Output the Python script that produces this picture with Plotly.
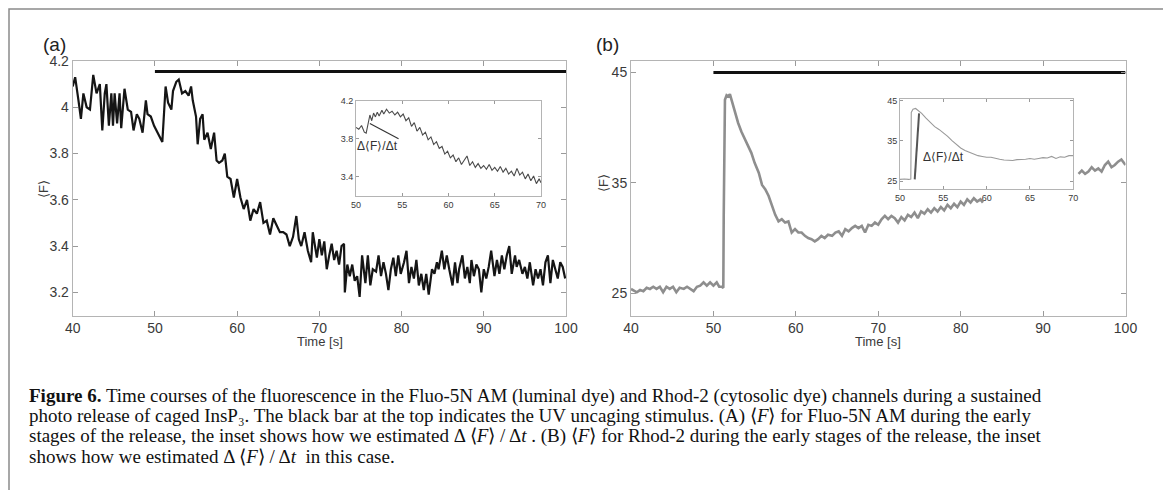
import plotly.graph_objects as go

# ---------------- data ----------------
a_t = [40.0,40.3,40.7,41.0,41.3,41.7,42.1,42.5,42.9,43.3,43.6,43.9,44.1,44.4,44.7,44.9,45.1,45.4,45.7,45.9,
       46.3,46.7,47.1,47.4,47.8,48.1,48.5,48.9,49.1,49.5,49.9,50.3,50.9,51.3,51.6,52.0,52.2,52.6,52.9,53.3,
       53.7,54.1,54.4,54.6,55.0,55.2,55.5,55.8,56.0,56.4,56.8,57.2,57.5,57.8,58.2,58.5,58.8,59.2,59.6,60.0,
       60.4,60.8,61.2,61.6,62.0,62.4,62.8,63.2,63.6,64.0,64.4,64.8,65.2,65.6,66.0,66.4,66.8,67.2,67.5,67.8,
       68.2,68.6,69.0,69.2,69.7,70.0,70.3,70.6,70.9,71.2,71.5,71.8,72.1,72.4,72.7,73.0,73.1,73.4,73.7,74.0,
       74.3,74.6,74.9,75.2,75.6,75.9,76.2,76.5,76.9,77.2,77.5,77.8,78.1,78.4,78.7,79.0,79.3,79.6,79.9,80.3,
       80.6,80.9,81.2,81.5,81.8,82.1,82.4,82.7,83.0,83.3,83.7,84.0,84.3,84.5,84.9,85.2,85.5,85.8,86.2,86.5,
       86.8,87.0,87.4,87.7,88.0,88.3,88.5,88.8,89.1,89.4,89.7,90.0,90.3,90.6,90.9,91.3,91.6,91.9,92.2,92.5,
       92.8,93.1,93.4,93.8,94.0,94.3,94.7,95.0,95.3,95.6,96.0,96.3,96.6,96.9,97.2,97.5,97.8,98.1,98.4,98.7,
       99.0,99.3,99.6,99.9]
a_v = [4.09,4.13,4.03,3.95,4.06,4.00,3.99,4.14,4.06,4.10,3.90,4.06,4.10,3.92,4.06,3.92,4.06,3.93,4.06,3.91,
       4.08,3.99,3.98,3.90,3.97,3.95,3.89,4.03,3.97,3.96,3.92,3.89,3.85,4.09,4.02,3.99,4.07,4.11,4.12,4.06,
       4.07,4.05,4.09,4.03,3.96,3.84,3.95,3.97,3.86,3.89,3.82,3.89,3.77,3.76,3.77,3.80,3.70,3.69,3.61,3.69,
       3.61,3.56,3.60,3.51,3.56,3.54,3.59,3.50,3.51,3.45,3.52,3.49,3.46,3.46,3.45,3.40,3.44,3.53,3.43,3.40,
       3.46,3.38,3.33,3.46,3.35,3.43,3.36,3.42,3.30,3.36,3.41,3.34,3.38,3.32,3.40,3.41,3.20,3.32,3.27,3.32,
       3.25,3.27,3.18,3.36,3.24,3.36,3.23,3.30,3.29,3.36,3.27,3.33,3.28,3.21,3.30,3.35,3.27,3.36,3.28,3.33,
       3.38,3.24,3.31,3.26,3.34,3.23,3.28,3.21,3.28,3.19,3.30,3.28,3.33,3.30,3.38,3.30,3.36,3.30,3.23,3.33,
       3.24,3.30,3.36,3.26,3.31,3.24,3.34,3.27,3.32,3.30,3.20,3.30,3.26,3.31,3.38,3.27,3.34,3.28,3.36,3.30,
       3.36,3.40,3.28,3.36,3.31,3.34,3.28,3.31,3.26,3.33,3.23,3.30,3.26,3.30,3.23,3.33,3.36,3.24,3.34,3.30,
       3.26,3.33,3.31,3.26]

inset_a_t = [50.0,50.3,50.6,50.9,51.1,51.3,51.5,51.7,51.9,52.1,52.3,52.5,52.8,53.0,53.3,53.6,53.9,54.2,54.5,54.8,
             55.1,55.4,55.7,56.0,56.3,56.6,56.9,57.2,57.5,57.8,58.1,58.4,58.7,59.0,59.3,59.6,59.9,60.2,60.5,60.8,
             61.1,61.4,61.7,62.0,62.3,62.6,62.9,63.2,63.5,63.8,64.1,64.4,64.7,65.0,65.3,65.6,65.9,66.2,66.5,66.8,
             67.1,67.4,67.7,68.0,68.3,68.6,68.9,69.2,69.5,69.8,70.0]
inset_a_v = [3.92,3.90,3.94,3.87,3.86,3.95,4.05,3.99,4.07,4.03,4.08,4.04,4.10,4.06,4.11,4.07,4.09,4.05,4.08,4.03,
             4.06,3.99,4.02,3.93,3.97,3.88,3.92,3.84,3.87,3.79,3.82,3.74,3.77,3.70,3.72,3.64,3.67,3.60,3.63,3.56,
             3.60,3.53,3.57,3.62,3.52,3.56,3.50,3.54,3.49,3.52,3.48,3.53,3.47,3.50,3.46,3.51,3.45,3.49,3.43,3.46,
             3.41,3.49,3.42,3.45,3.38,3.43,3.36,3.41,3.33,3.38,3.34]
slope_a_t = [51.5, 54.6]
slope_a_v = [3.96, 3.80]

b_t = [40.0,40.3,40.7,41.1,41.5,41.9,42.3,42.7,43.1,43.5,43.9,44.3,44.7,45.1,45.5,45.9,46.4,46.8,47.2,47.6,
       48.0,48.4,48.8,49.2,49.6,50.0,50.4,50.7,51.0,51.2,51.25,51.4,51.6,51.8,52.0,52.3,52.6,53.0,53.4,53.8,
       54.2,54.6,55.0,55.5,55.9,56.3,56.7,57.1,57.5,57.9,58.3,58.7,59.1,59.5,59.9,60.3,60.7,61.1,61.5,61.9,
       62.3,62.7,63.1,63.5,63.9,64.4,64.8,65.2,65.6,66.0,66.4,66.8,67.2,67.6,68.0,68.4,68.8,69.2,69.6,70.0,
       70.4,70.8,71.2,71.6,72.0,72.4,72.8,73.2,73.6,74.0,74.4,74.8,75.2,75.6,76.0,76.4,76.8,77.2,77.6,78.0,
       78.4,78.8,79.2,79.6,80.0,80.4,80.8,81.2,81.6,82.0,82.4,82.7,88.0,94.3,94.7,95.1,95.5,95.9,96.3,96.7,
       97.1,97.5,97.9,98.3,98.7,99.1,99.5,100.0]
b_v = [25.4,25.3,25.1,25.3,25.2,25.5,25.4,25.6,25.4,25.6,25.1,25.6,25.4,25.6,25.1,25.5,25.4,25.6,25.4,25.2,
       25.6,25.7,26.0,25.7,26.0,25.7,26.0,25.6,25.6,25.5,32.0,42.5,42.9,42.8,43.0,42.2,41.6,40.4,39.6,39.0,
       38.3,37.7,36.8,35.9,34.8,34.4,33.8,32.9,32.1,31.5,31.7,31.4,31.5,30.5,30.8,30.5,30.5,30.2,30.0,29.9,
       29.7,29.9,30.2,30.0,30.3,30.2,30.5,30.6,30.2,30.8,30.6,30.9,31.1,30.9,31.1,30.5,31.2,31.1,31.4,31.2,
       31.7,32.0,31.7,32.0,31.8,31.4,31.9,31.6,32.1,31.9,32.3,31.8,32.4,32.2,32.6,32.3,32.7,32.4,32.8,32.5,
       33.0,32.7,33.1,32.8,33.3,33.0,33.5,33.2,33.6,33.3,33.5,33.2,None,35.8,36.1,35.8,36.0,36.4,36.1,36.3,
       36.0,36.6,36.9,36.4,36.6,36.9,37.1,36.6]

inset_b_t = [50.0,50.5,51.0,51.25,51.3,51.5,51.8,52.0,52.5,53.0,53.5,54.0,54.5,55.0,55.5,56.0,56.5,57.0,57.5,58.0,
             58.5,59.0,59.5,60.0,60.5,61.0,61.5,62.0,62.5,63.0,63.5,64.0,64.5,65.0,65.5,66.0,66.5,67.0,67.5,68.0,
             68.5,69.0,69.5,70.0]
inset_b_v = [25.4,25.5,25.4,25.5,42.0,42.8,43.0,42.7,41.8,40.6,39.5,38.5,37.8,37.0,36.1,35.0,34.1,33.2,32.6,32.1,
             31.6,31.3,31.1,30.9,30.9,30.6,30.4,30.2,30.1,30.1,30.3,30.3,30.4,30.6,30.4,30.6,30.8,30.7,31.1,30.6,
             31.0,30.9,31.3,31.3]
slope_b_t = [51.7, 52.2]
slope_b_v = [25.4, 41.8]

stim_t = [50, 100]
stim_a = [4.155, 4.155]
stim_b = [44.95, 44.95]

x_ticks = [40, 50, 60, 70, 80, 90, 100]
a_y_ticks = [3.2, 3.4, 3.6, 3.8, 4.0, 4.2]
a_y_text = ["3.2", "3.4", "3.6", "3.8", "4", "4.2"]
b_y_ticks = [25, 35, 45]
inset_x_ticks = [50, 55, 60, 65, 70]
inset_a_y_ticks = [3.4, 3.8, 4.2]
inset_b_y_ticks = [25, 35, 45]

caption_lines = [
    "<b>Figure 6.</b> Time courses of the fluorescence in the Fluo-5N AM (luminal dye) and Rhod-2 (cytosolic dye) channels during a sustained",
    "photo release of caged InsP₃. The black bar at the top indicates the UV uncaging stimulus. (A) ⟨<i>F</i>⟩ for Fluo-5N AM during the early",
    "stages of the release, the inset shows how we estimated Δ ⟨<i>F</i>⟩ / Δ<i>t</i> . (B) ⟨<i>F</i>⟩ for Rhod-2 during the early stages of the release, the inset",
    "shows how we estimated Δ ⟨<i>F</i>⟩ / Δ<i>t</i>  in this case.",
]

# ---------------- layout helpers ----------------
# page body has an 8px margin, so target pixel positions are shifted back by 8
W, H = 1171, 490
OFF = 8
def px(x):
    return (x - OFF) / W
def py(y):
    return 1 - (y - OFF) / H

SANS = "Liberation Sans, Arial, sans-serif"
SERIF = "Liberation Serif, Times New Roman, serif"
AXCOL = "#b4b4b4"
TXT = "#3a3a3a"

fig = go.Figure()

fig.add_trace(go.Scatter(x=a_t, y=a_v, mode="lines", line=dict(color="#151515", width=2.2),
                         xaxis="x", yaxis="y", showlegend=False))
fig.add_trace(go.Scatter(x=stim_t, y=stim_a, mode="lines", line=dict(color="#111111", width=3),
                         xaxis="x", yaxis="y", showlegend=False))
fig.add_trace(go.Scatter(x=b_t, y=b_v, mode="lines", line=dict(color="#8e8e8e", width=2.6),
                         connectgaps=False, xaxis="x2", yaxis="y2", showlegend=False))
fig.add_trace(go.Scatter(x=stim_t, y=stim_b, mode="lines", line=dict(color="#111111", width=3),
                         xaxis="x2", yaxis="y2", showlegend=False))
fig.add_trace(go.Scatter(x=inset_a_t, y=inset_a_v, mode="lines", line=dict(color="#4a4a4a", width=1.1),
                         xaxis="x3", yaxis="y3", showlegend=False))
fig.add_trace(go.Scatter(x=slope_a_t, y=slope_a_v, mode="lines", line=dict(color="#333333", width=1.1),
                         xaxis="x3", yaxis="y3", showlegend=False))
fig.add_trace(go.Scatter(x=inset_b_t, y=inset_b_v, mode="lines", line=dict(color="#9a9a9a", width=1.1),
                         xaxis="x4", yaxis="y4", showlegend=False))
fig.add_trace(go.Scatter(x=slope_b_t, y=slope_b_v, mode="lines", line=dict(color="#555555", width=2),
                         xaxis="x4", yaxis="y4", showlegend=False))

def axis(domain, rng, tickvals, ticktext=None, anchor=None, size=14, ticklen=5):
    d = dict(domain=domain, range=rng, tickmode="array", tickvals=tickvals,
             showline=True, linecolor=AXCOL, linewidth=1, mirror="ticks",
             ticks="inside", ticklen=ticklen, tickcolor="#9a9a9a", tickwidth=1,
             showgrid=False, zeroline=False, anchor=anchor, automargin=False,
             tickfont=dict(family=SANS, size=size, color=TXT))
    if ticktext is not None:
        d["ticktext"] = ticktext
    return d

layout = dict(
    width=W, height=H, autosize=False,
    margin=dict(l=0, r=0, t=0, b=0, pad=0, autoexpand=False),
    paper_bgcolor="white", plot_bgcolor="white",
    xaxis=axis([px(72.7), px(566)], [40, 100], x_ticks, anchor="y"),
    yaxis=axis([py(315.5), py(61)], [3.1, 4.2], a_y_ticks, a_y_text, anchor="x"),
    xaxis2=axis([px(631), px(1125.5)], [40, 100], x_ticks, anchor="y2"),
    yaxis2=axis([py(315.5), py(61)], [23.0, 46.0], b_y_ticks, anchor="x2"),
    xaxis3=axis([px(356), px(541)], [50, 70], inset_x_ticks, anchor="y3", size=9, ticklen=3),
    yaxis3=axis([py(196), py(100.7)], [3.2, 4.2], inset_a_y_ticks, anchor="x3", size=9, ticklen=3),
    xaxis4=axis([px(900), px(1073.3)], [50, 70], inset_x_ticks, anchor="y4", size=9, ticklen=3),
    yaxis4=axis([py(189.3), py(99)], [22.95, 45.35], inset_b_y_ticks, anchor="x4", size=9, ticklen=3),
)
fig.update_layout(**layout)

ann = []
ann.append(dict(text="(a)", x=px(41), y=py(44), xref="paper", yref="paper", xanchor="left", yanchor="middle",
                showarrow=False, font=dict(family=SANS, size=19, color="#222")))
ann.append(dict(text="(b)", x=px(594), y=py(44), xref="paper", yref="paper", xanchor="left", yanchor="middle",
                showarrow=False, font=dict(family=SANS, size=19, color="#222")))
for xc in (px(320), px(878)):
    ann.append(dict(text="Time [s]", x=xc, y=py(341), xref="paper", yref="paper", xanchor="center",
                    yanchor="middle", showarrow=False, font=dict(family=SANS, size=13, color=TXT)))
for xc, yc in ((px(43), py(189)), (px(603), py(183))):
    ann.append(dict(text="⟨F⟩", x=xc, y=yc, xref="paper", yref="paper", xanchor="center",
                    yanchor="middle", textangle=-90, showarrow=False,
                    font=dict(family=SANS, size=13, color=TXT)))
ann.append(dict(text="Δ⟨F⟩/Δt", x=52.3, y=3.72, xref="x3", yref="y3", showarrow=False,
                font=dict(family=SANS, size=12, color="#333")))
ann.append(dict(text="Δ⟨F⟩/Δt", x=55.0, y=31.0, xref="x4", yref="y4", showarrow=False,
                font=dict(family=SANS, size=12, color="#333")))
for i, line in enumerate(caption_lines):
    ann.append(dict(text=line, x=px(27), y=py(396 + 20 * i), xref="paper", yref="paper",
                    xanchor="left", yanchor="middle", showarrow=False,
                    font=dict(family=SERIF, size=19, color="#111")))
fig.update_layout(annotations=ann)

# outer frame (kept just inside the drawing area so that it is not clipped)
fig.add_shape(type="rect", xref="paper", yref="paper", x0=px(9), x1=px(1165), y0=py(530), y1=py(9),
              line=dict(color="#8a8a8a", width=1.5), fillcolor="rgba(0,0,0,0)", layer="above")

fig.write_html("out.html")
